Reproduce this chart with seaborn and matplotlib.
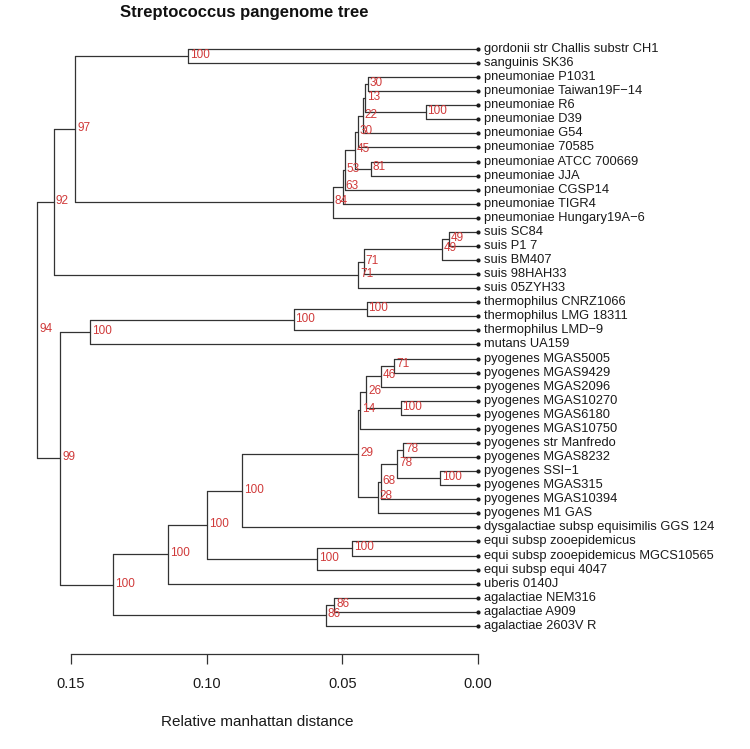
import matplotlib
matplotlib.use("Agg")
import matplotlib.pyplot as plt
import seaborn as sns
import pandas as pd
import numpy as np

# ---------------- data ----------------
leaves = [
    "gordonii str Challis substr CH1", "sanguinis SK36",
    "pneumoniae P1031", "pneumoniae Taiwan19F\u221214", "pneumoniae R6", "pneumoniae D39",
    "pneumoniae G54", "pneumoniae 70585", "pneumoniae ATCC 700669", "pneumoniae JJA",
    "pneumoniae CGSP14", "pneumoniae TIGR4", "pneumoniae Hungary19A\u22126",
    "suis SC84", "suis P1 7", "suis BM407", "suis 98HAH33", "suis 05ZYH33",
    "thermophilus CNRZ1066", "thermophilus LMG 18311", "thermophilus LMD\u22129",
    "mutans UA159",
    "pyogenes MGAS5005", "pyogenes MGAS9429", "pyogenes MGAS2096", "pyogenes MGAS10270",
    "pyogenes MGAS6180", "pyogenes MGAS10750", "pyogenes str Manfredo", "pyogenes MGAS8232",
    "pyogenes SSI\u22121", "pyogenes MGAS315", "pyogenes MGAS10394", "pyogenes M1 GAS",
    "dysgalactiae subsp equisimilis GGS 124",
    "equi subsp zooepidemicus", "equi subsp zooepidemicus MGCS10565", "equi subsp equi 4047",
    "uberis 0140J",
    "agalactiae NEM316", "agalactiae A909", "agalactiae 2603V R",
]

# merges: children refer to leaf names or earlier node ids ("n<k>")
node_ids = [f"n{k}" for k in range(1, 42)]
node_left = [
    "suis SC84", "n1", "pyogenes SSI\u22121", "pneumoniae R6", "pyogenes str Manfredo",
    "pyogenes MGAS10270", "n5", "pyogenes MGAS5005", "n8", "n7",
    "n10", "pneumoniae ATCC 700669", "pneumoniae P1031", "thermophilus CNRZ1066", "n9",
    "n13", "n2", "n16", "n15", "n17",
    "n19", "n18", "n22", "equi subsp zooepidemicus", "n23",
    "n25", "agalactiae NEM316", "n26", "n27", "n24",
    "n14", "n21", "n32", "gordonii str Challis substr CH1", "n33",
    "n35", "n31", "n34", "n38", "n37",
    "n39",
]
node_right = [
    "suis P1 7", "suis BM407", "pyogenes MGAS315", "pneumoniae D39", "pyogenes MGAS8232",
    "pyogenes MGAS6180", "n3", "pyogenes MGAS9429", "pyogenes MGAS2096", "pyogenes MGAS10394",
    "pyogenes M1 GAS", "pneumoniae JJA", "pneumoniae Taiwan19F\u221214", "thermophilus LMG 18311", "n6",
    "n4", "suis 98HAH33", "pneumoniae G54", "pyogenes MGAS10750", "suis 05ZYH33",
    "n11", "pneumoniae 70585", "n12", "equi subsp zooepidemicus MGCS10565", "pneumoniae CGSP14",
    "pneumoniae TIGR4", "agalactiae A909", "pneumoniae Hungary19A\u22126", "agalactiae 2603V R", "equi subsp equi 4047",
    "thermophilus LMD\u22129", "dysgalactiae subsp equisimilis GGS 124", "n30", "sanguinis SK36", "uberis 0140J",
    "n29", "mutans UA159", "n28", "n20", "n36",
    "n40",
]
node_height = [
    0.0107, 0.0134, 0.0140, 0.0193, 0.0275,
    0.0285, 0.0298, 0.0308, 0.0356, 0.0359,
    0.0370, 0.0394, 0.0406, 0.0410, 0.0411,
    0.0415, 0.0421, 0.0425, 0.0434, 0.0441,
    0.0441, 0.0443, 0.0453, 0.0463, 0.0490,
    0.0496, 0.0529, 0.0534, 0.0561, 0.0594,
    0.0679, 0.0868, 0.0997, 0.1069, 0.1143,
    0.1344, 0.1430, 0.1484, 0.1562, 0.1539,
    0.1624,
]
node_support = [
    49, 49, 100, 100, 78,
    100, 78, 71, 46, 68,
    28, 81, 30, 100, 26,
    13, 71, 22, 14, 71,
    29, 30, 45, 100, 53,
    63, 86, 84, 86, 100,
    100, 100, 100, 100, 100,
    100, 100, 97, 92, 99,
    94,
]
x_ticks = [0.15, 0.10, 0.05, 0.00]
x_tick_labels = ["0.15", "0.10", "0.05", "0.00"]
title = "Streptococcus pangenome tree"
x_label = "Relative manhattan distance"

# ---------------- layout from tree ----------------
pos_x = {name: 0.0 for name in leaves}
pos_y = {name: float(i) for i, name in enumerate(leaves)}
segs = []
seg_id = 0
for nid, a, b, h in zip(node_ids, node_left, node_right, node_height):
    ya, yb = pos_y[a], pos_y[b]
    pos_x[nid] = h
    pos_y[nid] = (ya + yb) / 2.0
    # vertical
    segs.append((seg_id, h, ya)); segs.append((seg_id, h, yb)); seg_id += 1
    # horizontals to children
    for c in (a, b):
        segs.append((seg_id, h, pos_y[c])); segs.append((seg_id, pos_x[c], pos_y[c])); seg_id += 1

seg_df = pd.DataFrame(segs, columns=["seg", "x", "y"])
leaf_df = pd.DataFrame({"x": [pos_x[n] for n in leaves], "y": [pos_y[n] for n in leaves]})

# ---------------- figure ----------------
sns.set_style("white")
plt.rcParams["font.family"] = ["Liberation Sans", "DejaVu Sans"]

W, H = 750, 749
fig = plt.figure(figsize=(W / 100, H / 100), dpi=100)
axis_px = 654.3
ax = fig.add_axes([0, (H - axis_px) / H, 1, axis_px / H])

# pixel mapping: x_px = 478 - h*2714 ; leaf i at y_px = 49 + i*14.07
px_per_unit = 2714.0
x0px = 478.0
ax.set_xlim(x0px / px_per_unit, (x0px - W) / px_per_unit)
ystep, y0 = 14.07, 49.0
ax.set_ylim((axis_px - y0) / ystep, (0 - y0) / ystep)

line_col = "#333333"
sns.lineplot(data=seg_df, x="x", y="y", units="seg", estimator=None, sort=False,
             color=line_col, linewidth=0.9, ax=ax, legend=False)
sns.scatterplot(data=leaf_df, x="x", y="y", color="#1a1a1a", s=9, linewidth=0,
                ax=ax, legend=False, zorder=3)

dx = 6.5 / px_per_unit
for name in leaves:
    ax.text(pos_x[name] - dx, pos_y[name], name, ha="left", va="center",
            fontsize=9.3, color="#1a1a1a")

red = "#d03a3a"
ldx = 1.8 / px_per_unit
for nid, s in zip(node_ids, node_support):
    ax.text(pos_x[nid] - ldx, pos_y[nid] - 0.08, str(s), ha="left", va="center",
            fontsize=8.5, color=red)

for sp in ["left", "top", "right"]:
    ax.spines[sp].set_visible(False)
ax.spines["bottom"].set_bounds(min(x_ticks), max(x_ticks))
ax.spines["bottom"].set_color("#333333")
ax.spines["bottom"].set_linewidth(0.9)
ax.set_xticks(x_ticks)
ax.set_xticklabels(x_tick_labels, fontsize=10.5, color="#1a1a1a")
ax.tick_params(axis="x", direction="out", length=7, width=0.9, color="#333333",
               pad=9, bottom=True)
ax.set_yticks([])
ax.set_xlabel("")
ax.set_ylabel("")

fig.text(244 / W, 1 - 12 / H, title, ha="center", va="center",
         fontsize=12, fontweight="bold", color="#111111")
fig.text(257 / W, 1 - 722 / H, x_label, ha="center", va="center",
         fontsize=11, color="#1a1a1a")

fig.savefig("out.png", dpi=100)
